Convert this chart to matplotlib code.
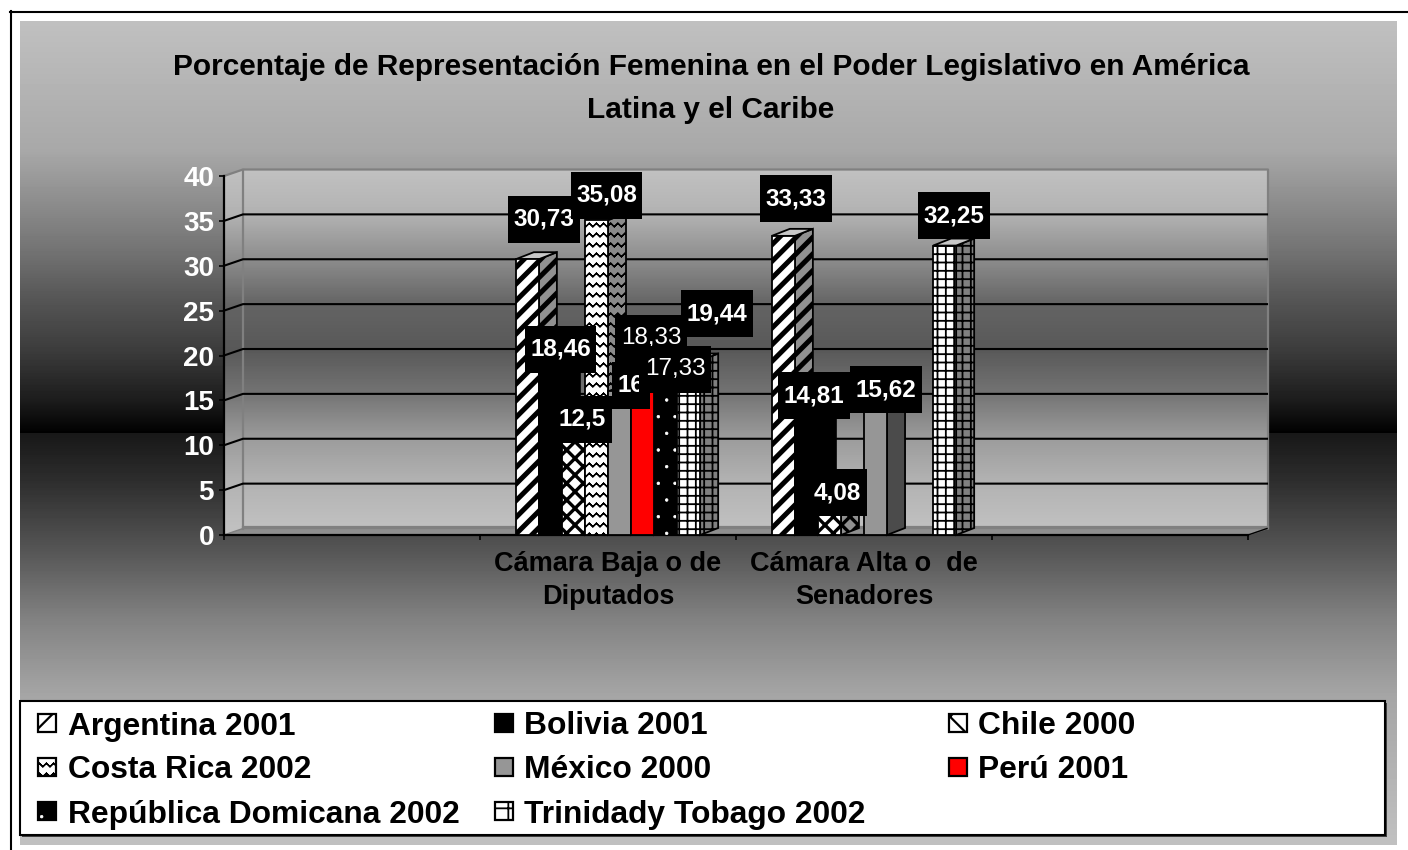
import numpy as np
import matplotlib
matplotlib.use("Agg")
import matplotlib.pyplot as plt
import matplotlib.hatch as mhatch
from matplotlib.patches import Polygon, Rectangle
from matplotlib.path import Path

# ---------- data ----------
categories = ["", "Cámara Baja o de\nDiputados", "Cámara Alta o  de\nSenadores", ""]
title = "Porcentaje de Representación Femenina en el Poder Legislativo en América\nLatina y el Caribe"
yticks = [0, 5, 10, 15, 20, 25, 30, 35, 40]
series_names = ["Argentina 2001", "Bolivia 2001", "Chile 2000", "Costa Rica 2002",
                "México 2000", "Perú 2001", "República Domicana 2002", "Trinidady Tobago 2002"]
argentina = [30.73, 33.33]
bolivia = [18.46, 14.81]
chile = [12.5, 4.08]
costa_rica = [35.08, None]
mexico = [16, 15.62]
peru = [18.33, None]
rep_dominicana = [17.33, None]
trinidad = [19.44, 32.25]
series_values = [argentina, bolivia, chile, costa_rica, mexico, peru, rep_dominicana, trinidad]

# ---------- layout / style ----------
W, H = 1408, 850
FX0, FX1, FY0, FY40 = 224, 1248, 535, 176   # front plane of the plot, pixels
DEPTH_X, DEPTH_Y = 19, 6.5                 # wall depth, pixels
BAR_DX, BAR_DY = 18, 7                     # bar depth, pixels
PX_X = (FX1 - FX0) / 4
PX_Y = (FY0 - FY40) / 40
BAR_W = 0.09
GROUP_CENTERS = [1.5, 2.5]
FONT = "Liberation Sans"

styles = [
    dict(face="white", side="#909090", top="#c8c8c8", hatch="//", key="/", hlw=3.6, edge="black"),
    dict(face="black", side="black", top="black", hatch=None, key=None, hlw=1, edge="black"),
    dict(face="white", side="#909090", top="#c8c8c8", hatch="xx", key="x", hlw=2.4, edge="black"),
    dict(face="white", side="#8a8a8a", top="#c8c8c8", hatch="z", key="z", hlw=1.0, edge="black"),
    dict(face="#969696", side="#4b4b4b", top="#787878", hatch=None, key=None, hlw=1, edge="black"),
    dict(face="#ff0000", side="#800000", top="#c00000", hatch=None, key=None, hlw=1, edge="black"),
    dict(face="black", side="black", top="black", hatch="d", key="d", hlw=0.5, edge="white"),
    dict(face="white", side="#808080", top="#c8c8c8", hatch="++", key="+", hlw=1.3, edge="black"),
]
label_dx = [[16.5, 13], [10, 7.6], [9, 8], [10, 0], [11.5, 10.5], [8.5, 0], [9.4, 0], [28, 9.4]]
label_up = [[39.7, 37], [20.3, 6.5], [3.8, 5.4], [25, 0], [6, 5.3], [32, 0], [10, 0], [47, 30]]
label_weight = ["bold", "bold", "bold", "bold", "bold", "normal", "normal", "bold"]

legend_key_x = [38, 495, 949]
legend_text_x = [68, 524, 978]
legend_row_y = [723, 767, 811]

bg_stops_y = [21, 150, 250, 300, 350, 400, 433, 434, 480, 550, 620, 695, 845]
bg_stops_v = [192, 168, 115, 85, 60, 28, 0, 24, 45, 85, 130, 165, 192]
wall_stops_y = [170, 214, 259, 304, 349, 393, 438, 482, 528]
wall_stops_v = [192, 178, 140, 100, 88, 115, 155, 178, 192]


class ZigZagHatch(mhatch.HatchPatternBase):
    """Chevron rows, 'z' in a hatch string; each row is traced forth and back so it has no area."""
    ROWS, PERIODS = 10, 14

    def __init__(self, hatch, density):
        self.on = hatch.count("z")
        n = 2 * self.PERIODS + 1
        self.num_vertices = self.ROWS * (2 * n - 1) if self.on else 0

    def set_vertices_and_codes(self, vertices, codes):
        n = 2 * self.PERIODS + 1
        xs = np.linspace(0, 1, n)
        amp = 0.35 / self.ROWS
        k = 0
        for r in range(self.ROWS):
            y = (r + 0.5) / self.ROWS
            ys = y + amp * (np.arange(n) % 2 - 0.5)
            px = np.concatenate([xs, xs[-2::-1]])
            py = np.concatenate([ys, ys[-2::-1]])
            m = len(px)
            vertices[k:k + m, 0] = px
            vertices[k:k + m, 1] = py
            codes[k] = Path.MOVETO
            codes[k + 1:k + m] = Path.LINETO
            k += m


class TinyDots(mhatch.Circles):
    """Small filled dots, 'd' in a hatch string."""
    size = 0.08
    filled = True

    def __init__(self, hatch, density):
        self.num_rows = hatch.count("d") * density
        super().__init__(hatch, density)


mhatch._hatch_types.extend([ZigZagHatch, TinyDots])

plt.rcParams["font.family"] = [FONT, "DejaVu Sans"]
fig = plt.figure(figsize=(W / 100, H / 100), dpi=100, facecolor="white")

# ---------- page layer, in pixels ----------
page = fig.add_axes([0, 0, 1, 1], zorder=0)
page.set_xlim(0, W)
page.set_ylim(H, 0)
page.axis("off")


def vgrad(ax, x0, x1, y0, y1, ys, vs):
    rows = np.arange(int(y0), int(y1) + 1)
    vals = np.interp(rows, ys, vs)[:, None] / 255.0
    return ax.imshow(vals, extent=(x0, x1, y1, y0), cmap="gray", vmin=0, vmax=1,
                     aspect="auto", interpolation="nearest", zorder=1)


vgrad(page, 20, 1397, 21, 845, bg_stops_y, bg_stops_v)
page.set_xlim(0, W)
page.set_ylim(H, 0)
page.plot([11, 11], [11, H], color="black", lw=1.5, zorder=2)
page.plot([10, W], [12, 12], color="black", lw=1.5, zorder=2)

# walls
wl, wr, wt, wb = FX0 + DEPTH_X, FX1 + DEPTH_X + 1, FY40 - DEPTH_Y, FY0 - DEPTH_Y
im = vgrad(page, FX0, wr, wt, FY0, wall_stops_y, wall_stops_v)
page.set_xlim(0, W)
page.set_ylim(H, 0)
clip = Polygon([(FX0, FY40), (wl, wt), (wr, wt), (wr, wb), (wl, wb), (FX0, FY0)],
               closed=True, transform=page.transData, fc="none", ec="none")
page.add_patch(clip)
im.set_clip_path(clip)
page.add_patch(Polygon([(FX0, FY0), (wl, wb), (wr, wb), (FX1, FY0)], closed=True,
                       fc="#8f8f8f", ec="#808080", lw=1, zorder=2))
page.plot([FX0, wl, wr, wr], [FY40, wt, wt, wb], color="#808080", lw=1.6, zorder=2)
page.plot([wl, wl], [wt, wb], color="#808080", lw=1.6, zorder=2)
page.plot([wl, wr], [wb - 1.5, wb - 1.5], color="#808080", lw=1.6, zorder=2)

page.text(711, 88.5, title, ha="center", va="center", fontsize=21.5, fontweight="bold",
          color="black", linespacing=1.67, zorder=3)

# legend
page.add_patch(Rectangle((22, 703), 1365, 134, fc="#404040", ec="none", zorder=3))
page.add_patch(Rectangle((20, 701), 1365, 134, fc="white", ec="black", lw=1.5, zorder=3))
for i, name in enumerate(series_names):
    r, c = divmod(i, 3)
    st = styles[i]
    plt.rcParams["hatch.linewidth"] = min(st["hlw"], 1.6)
    white_hatch = st["edge"] != "black"
    page.add_patch(Rectangle((legend_key_x[c], legend_row_y[r] - 9), 18, 18, fc=st["face"],
                             ec=st["edge"], lw=0 if white_hatch else 1.6,
                             hatch=st["key"], zorder=4))
    if white_hatch:
        page.add_patch(Rectangle((legend_key_x[c], legend_row_y[r] - 9), 18, 18, fc="none",
                                 ec="black", lw=1.6, zorder=4))
    page.text(legend_text_x[c], legend_row_y[r], name, ha="left", va="center_baseline",
              fontsize=22.9, fontweight="bold", color="black", zorder=4)

# ---------- chart layer ----------
ax = fig.add_axes([FX0 / W, 1 - FY0 / H, (FX1 - FX0) / W, (FY0 - FY40) / H], zorder=1)
ax.patch.set_visible(False)
ax.set_xlim(0, 4)
ax.set_ylim(0, 40)
for s in ("top", "right"):
    ax.spines[s].set_visible(False)
for s in ("left", "bottom"):
    ax.spines[s].set_linewidth(1.6)
ax.set_xticks([0, 1, 2, 3, 4])
ax.set_xticklabels([])
ax.set_xticks([0.5, 1.5, 2.5, 3.5], minor=True)
ax.set_xticklabels(categories, minor=True, fontsize=19.5, fontweight="bold", color="black",
                   linespacing=1.35)
ax.tick_params(axis="x", which="major", length=3.6, width=1.2, color="black")
ax.tick_params(axis="x", which="minor", length=0, pad=11.5)
ax.set_yticks(yticks)
ax.set_yticklabels([str(v) for v in yticks], fontsize=20, fontweight="bold", color="white")
ax.tick_params(axis="y", length=3.6, width=1.2, color="black", pad=3.6)

wdx, wdy = DEPTH_X / PX_X, DEPTH_Y / PX_Y
for v in yticks:
    if 0 < v < 40:
        ax.plot([0, wdx, 4 + wdx], [v, v + wdy, v + wdy], color="black", lw=1.5,
                clip_on=False, zorder=2, solid_joinstyle="miter")
ax.plot([4, 4 + wdx], [0, wdy], color="black", lw=1.0, clip_on=False, zorder=2)

bdx, bdy = BAR_DX / PX_X, BAR_DY / PX_Y
EDGE_LW = 1.3
for i, vals in enumerate(series_values):
    st = styles[i]
    plt.rcParams["hatch.linewidth"] = st["hlw"]
    for g, v in enumerate(vals):
        if v is None:
            continue
        cx = GROUP_CENTERS[g] + (i - 3.5) * BAR_W
        x0, x1 = cx - BAR_W / 2, cx + BAR_W / 2
        is_white_hatch = st["edge"] != "black"
        ax.add_patch(Polygon([(x1, 0), (x1 + bdx, bdy), (x1 + bdx, v + bdy), (x1, v)], closed=True,
                             fc=st["side"], ec=st["edge"], lw=0 if is_white_hatch else EDGE_LW,
                             hatch=st["hatch"], clip_on=False, zorder=3))
        ax.add_patch(Polygon([(x0, v), (x0 + bdx, v + bdy), (x1 + bdx, v + bdy), (x1, v)], closed=True,
                             fc=st["top"], ec=st["edge"], lw=0 if is_white_hatch else EDGE_LW,
                             clip_on=False, zorder=3))
        ax.bar(cx, v, width=BAR_W, color=st["face"], edgecolor=st["edge"],
               linewidth=0 if is_white_hatch else EDGE_LW, hatch=st["hatch"],
               clip_on=False, zorder=3)


def label_box(x0, y0, width, height, mutation_size):
    """Black label box, 71x47 for a five-character label."""
    cy = y0 + height / 2
    return Path([(x0 - 5.5, cy - 23.5), (x0 + width + 5.5, cy - 23.5), (x0 + width + 5.5, cy + 23.5),
                 (x0 - 5.5, cy + 23.5), (x0 - 5.5, cy - 23.5)], closed=True)


z = 5
for i, vals in enumerate(series_values):
    for g, v in enumerate(vals):
        if v is None:
            continue
        cx = GROUP_CENTERS[g] + (i - 3.5) * BAR_W
        txt = f"{v:g}".replace(".", ",")
        ax.annotate(txt, xy=(cx, v), xytext=(label_dx[i][g], label_up[i][g]),
                    xycoords="data", textcoords="offset pixels", ha="center", va="center",
                    fontsize=17.5, fontweight=label_weight[i], color="white", zorder=z,
                    annotation_clip=False,
                    bbox=dict(boxstyle=label_box, fc="black", ec="none"))
        z += 1

fig.savefig("out.png", dpi=100)
